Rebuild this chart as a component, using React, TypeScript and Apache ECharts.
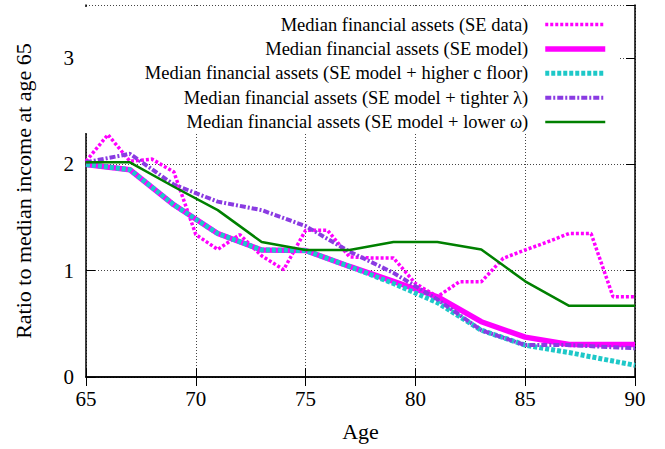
import React, { useEffect, useRef } from "react";
import * as echarts from "echarts";

const seriesNames = [
  "Median financial assets (SE data)",
  "Median financial assets (SE model)",
  "Median financial assets (SE model + higher c floor)",
  "Median financial assets (SE model + tighter \u03bb)",
  "Median financial assets (SE model + lower \u03c9)",
];

const dataAges = [65, 66, 67, 68, 69, 70, 71, 72, 73, 74, 75, 76, 77, 78, 79, 80, 81, 82, 83, 84, 85, 86, 87, 88, 89, 90];
const seData = [2.03, 2.28, 2.03, 2.05, 1.93, 1.34, 1.2, 1.34, 1.14, 1.01, 1.38, 1.38, 1.13, 1.12, 1.12, 0.88, 0.755, 0.896, 0.896, 1.117, 1.195, 1.27, 1.35, 1.35, 0.755, 0.755];

const modelAges = [65, 67, 69, 71, 73, 75, 77, 79, 81, 83, 85, 87, 89, 90];
const seModel = [2.0, 1.95, 1.62, 1.35, 1.195, 1.19, 1.04, 0.9, 0.755, 0.52, 0.375, 0.305, 0.305, 0.305];
const higherCFloor = [2.0, 1.95, 1.62, 1.35, 1.195, 1.19, 1.04, 0.88, 0.7, 0.44, 0.3, 0.23, 0.15, 0.11];
const tighterLambda = [2.02, 2.1, 1.81, 1.65, 1.57, 1.42, 1.18, 0.98, 0.73, 0.44, 0.3, 0.3, 0.28, 0.27];
const lowerOmega = [2.02, 2.02, 1.79, 1.57, 1.27, 1.195, 1.195, 1.27, 1.27, 1.2, 0.9, 0.67, 0.67, 0.67];

const xTicks = { min: 65, max: 90, interval: 5 };
const yTicks = { min: 0, max: 3.5, interval: 1 };

const pair = (xs: number[], ys: number[]) => xs.map((x, i) => [x, ys[i]]);

const FONT = "Liberation Serif";

export default function App() {
  const ref = useRef<HTMLDivElement>(null);
  useEffect(() => {
    if (!ref.current) return;
    const chart = echarts.init(ref.current, undefined, { renderer: "svg" });
    const axisLine = { show: true, lineStyle: { color: "#000", width: 1.5 } };
    const tick = { show: true, inside: true, length: 9, lineStyle: { color: "#000", width: 1 } };
    const split = { show: true, lineStyle: { color: "#444", type: [1, 2] as any, width: 1 } };
    const option: any = {
      animation: false,
      textStyle: { fontFamily: FONT },
      grid: { left: 86, right: 30, top: 5, bottom: 72, containLabel: false },
      xAxis: [
        {
          type: "value",
          min: xTicks.min,
          max: xTicks.max,
          interval: xTicks.interval,
          position: "bottom",
          axisLine,
          axisTick: tick,
          splitLine: split,
          axisLabel: { color: "#000", fontSize: 21, fontFamily: FONT, margin: 11 },
          name: "Age",
          nameLocation: "middle",
          nameGap: 43,
          nameTextStyle: { color: "#000", fontSize: 22, fontFamily: FONT },
        },
        {
          type: "value",
          min: xTicks.min,
          max: xTicks.max,
          interval: xTicks.interval,
          position: "top",
          axisLine,
          axisTick: tick,
          splitLine: { show: false },
          axisLabel: { show: false },
        },
      ],
      yAxis: [
        {
          type: "value",
          min: yTicks.min,
          max: yTicks.max,
          interval: yTicks.interval,
          position: "left",
          axisLine,
          axisTick: tick,
          splitLine: split,
          axisLabel: { color: "#000", fontSize: 21, fontFamily: FONT, margin: 12, showMaxLabel: false },
          name: "Ratio to median income at age 65",
          nameLocation: "middle",
          nameGap: 52,
          nameTextStyle: { color: "#000", fontSize: 22, fontFamily: FONT },
        },
        {
          type: "value",
          min: yTicks.min,
          max: yTicks.max,
          interval: yTicks.interval,
          position: "right",
          axisLine,
          axisTick: tick,
          splitLine: { show: false },
          axisLabel: { show: false },
        },
      ],
      legend: {
        show: true,
        orient: "vertical",
        align: "right",
        right: 45,
        top: 7,
        itemWidth: 60,
        itemHeight: 14,
        itemGap: 4.4,
        itemStyle: { opacity: 0, color: "rgba(0,0,0,0)", borderWidth: 0 },
        lineStyle: { width: "inherit", type: "inherit", color: "inherit" },
        backgroundColor: "#fff",
        padding: [7.5, 12, 1, 60],
        textStyle: { color: "#000", fontSize: 18.5, fontFamily: FONT, lineHeight: 20, padding: [0, 12, 0, 0] },
        data: seriesNames,
      },
      series: [
        {
          name: seriesNames[0],
          type: "line",
          symbol: "none",
          data: pair(dataAges, seData),
          lineStyle: { color: "#ff00ff", width: 3.5, type: [3, 2] },
          itemStyle: { color: "#ff00ff" },
        },
        {
          name: seriesNames[1],
          type: "line",
          symbol: "none",
          data: pair(modelAges, seModel),
          lineStyle: { color: "#ff00ff", width: 5.5, type: "solid" },
          itemStyle: { color: "#ff00ff" },
        },
        {
          name: seriesNames[2],
          type: "line",
          symbol: "none",
          data: pair(modelAges, higherCFloor),
          lineStyle: { color: "#1ec8c8", width: 5, type: [4, 2] },
          itemStyle: { color: "#1ec8c8" },
        },
        {
          name: seriesNames[3],
          type: "line",
          symbol: "none",
          data: pair(modelAges, tighterLambda),
          lineStyle: { color: "#8a3be2", width: 4, type: [6, 2, 2, 2] },
          itemStyle: { color: "#8a3be2" },
        },
        {
          name: seriesNames[4],
          type: "line",
          symbol: "none",
          data: pair(modelAges, lowerOmega),
          lineStyle: { color: "#008000", width: 2.5, type: "solid" },
          itemStyle: { color: "#008000" },
        },
      ],
    };
    chart.setOption(option);
    return () => chart.dispose();
  }, []);
  return <div ref={ref} style={{ width: 665, height: 449, position: "absolute", left: 0, top: 0 }} />;
}
